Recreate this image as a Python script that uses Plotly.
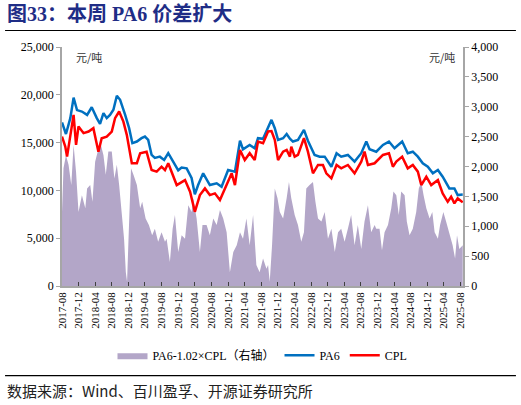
import plotly.graph_objects as go

# PA6-1.02xCPL spread (yuan/t, right axis)
spread_dates = [
    "2017-08-01", "2017-08-12", "2017-08-30", "2017-09-18", "2017-10-08", "2017-10-25", "2017-11-12", "2017-11-30",
    "2017-12-25", "2018-01-19", "2018-02-01", "2018-02-24", "2018-03-12", "2018-04-01", "2018-04-20", "2018-05-07",
    "2018-06-01", "2018-06-18", "2018-07-07", "2018-08-01", "2018-08-20", "2018-09-07", "2018-09-24", "2018-10-13",
    "2018-10-30", "2018-11-12", "2018-11-21", "2018-12-01", "2018-12-20", "2019-01-07", "2019-02-01", "2019-02-25",
    "2019-03-12", "2019-04-06", "2019-04-30", "2019-05-24", "2019-06-13", "2019-07-07", "2019-08-01", "2019-08-26",
    "2019-09-07", "2019-10-01", "2019-10-21", "2019-11-07", "2019-12-01", "2019-12-26", "2020-01-20", "2020-02-13",
    "2020-03-08", "2020-03-20", "2020-04-14", "2020-05-08", "2020-05-27", "2020-06-26", "2020-07-20", "2020-08-14",
    "2020-09-08", "2020-10-02", "2020-10-26", "2020-11-20", "2020-12-14", "2021-01-08", "2021-02-02", "2021-02-26",
    "2021-03-20", "2021-04-14", "2021-05-08", "2021-06-02", "2021-06-26", "2021-07-20", "2021-08-14", "2021-09-08",
    "2021-09-20", "2021-10-02", "2021-10-19", "2021-11-08", "2021-11-28", "2021-12-15", "2022-01-08", "2022-02-03",
    "2022-02-20", "2022-03-09", "2022-04-03", "2022-04-27", "2022-05-21", "2022-06-10", "2022-06-27", "2022-07-21",
    "2022-08-15", "2022-09-02", "2022-09-21", "2022-10-16", "2022-11-09", "2022-12-03", "2022-12-28", "2023-01-22",
    "2023-02-15", "2023-03-10", "2023-04-04", "2023-04-28", "2023-05-22", "2023-06-16", "2023-07-10", "2023-08-04",
    "2023-08-28", "2023-09-22", "2023-10-16", "2023-11-10", "2023-11-22", "2023-12-16", "2024-01-03", "2024-01-22",
    "2024-02-16", "2024-03-11", "2024-03-27", "2024-04-17", "2024-05-05", "2024-05-23", "2024-06-17", "2024-07-03",
    "2024-07-23", "2024-08-16", "2024-09-10", "2024-09-29", "2024-10-17", "2024-11-03", "2024-11-23", "2024-12-17",
    "2025-01-06", "2025-01-23", "2025-02-16", "2025-03-04", "2025-03-28", "2025-04-17", "2025-05-11", "2025-06-04",
    "2025-06-22", "2025-07-06", "2025-07-23", "2025-08-17",
]
spread = [
    1240, 1970, 2190, 2030, 1690, 2360, 1910, 1240,
    1520, 1300, 1630, 1690, 1410, 2080, 2250, 2420,
    2190, 1860, 2250, 2250, 1800, 2030, 1690, 1240,
    790, 230, 70, 740, 1970, 1860, 1690, 1300,
    1410, 1130, 1020, 850, 960, 740, 900, 740,
    790, 400, 960, 1190, 570, 850, 790, 1350,
    1240, 1470, 1130, 570, 1020, 1020, 850, 1130,
    1020, 1270, 1130, 900, 230, 570, 680, 900,
    790, 1130, 680, 1190, 350, 230, 460, 290,
    350, 70, 680, 1630, 1470, 1240, 1130, 1470,
    1740, 1470, 1190, 1020, 740, 900, 1630, 1690,
    1740, 1410, 1130, 1080, 1240, 790, 960, 570,
    900, 960, 740, 960, 1190, 680, 1020, 620,
    1080, 1350, 900, 1020, 960, 960, 600, 900,
    1020, 1300, 1580, 1520, 1190, 1580, 1520, 1080,
    850, 960, 1240, 1630, 1740, 1520, 1300, 1130,
    1240, 900, 790, 1020, 1240, 1080, 900, 680,
    460, 850, 620, 680,
]

# PA6 price (yuan/t, left axis)
pa6_dates = [
    "2017-08-01", "2017-08-30", "2017-10-01", "2017-10-25", "2017-11-19", "2017-12-25", "2018-02-01", "2018-03-07",
    "2018-04-13", "2018-05-07", "2018-06-01", "2018-06-25", "2018-07-19", "2018-08-13", "2018-09-07", "2018-10-01",
    "2018-11-07", "2018-12-06", "2018-12-30", "2019-02-01", "2019-03-07", "2019-04-01", "2019-04-25", "2019-05-20",
    "2019-06-13", "2019-07-19", "2019-08-20", "2019-09-19", "2019-10-25", "2019-12-01", "2019-12-26", "2020-02-01",
    "2020-03-08", "2020-04-01", "2020-04-25", "2020-06-01", "2020-07-20", "2020-09-08", "2020-10-14", "2020-12-01",
    "2021-01-20", "2021-02-26", "2021-03-20", "2021-05-08", "2021-06-14", "2021-07-08", "2021-08-14", "2021-09-20",
    "2021-10-15", "2021-11-08", "2021-12-02", "2022-01-08", "2022-02-03", "2022-02-27", "2022-03-21", "2022-04-27",
    "2022-06-10", "2022-07-09", "2022-08-27", "2022-10-03", "2022-11-09", "2022-12-28", "2023-02-04", "2023-03-10",
    "2023-04-28", "2023-06-16", "2023-08-04", "2023-09-10", "2023-10-04", "2023-11-22", "2024-01-10", "2024-02-23",
    "2024-04-04", "2024-05-30", "2024-07-10", "2024-08-16", "2024-09-22", "2024-10-28", "2024-12-04", "2025-01-10",
    "2025-02-16", "2025-03-23", "2025-05-11", "2025-06-17", "2025-07-11", "2025-08-17",
]
pa6 = [
    17100, 15900, 17560, 19700, 18400, 18250, 17900, 18700,
    17560, 16950, 18080, 17560, 17900, 18430, 19900, 19480,
    17900, 16510, 14940, 15110, 15460, 15630, 15280, 13710,
    13400, 13530, 13180, 13890, 13010, 12100, 12400, 12310,
    11300, 9600, 10560, 11790, 10560, 10740, 10380, 12130,
    11960, 15200, 14300, 14760, 14410, 15460, 15400, 16600,
    17380, 16500, 15280, 15460, 15900, 15400, 15110, 15280,
    16330, 15200, 13710, 13530, 13530, 12480, 13890, 13530,
    13710, 13010, 13890, 15110, 14300, 14050, 14760, 15110,
    14410, 15110, 13890, 14050, 13530, 12840, 12480, 11790,
    12130, 11430, 10210, 10210, 9510, 9560,
]

# CPL price (yuan/t, left axis)
cpl_dates = [
    "2017-08-01", "2017-08-25", "2017-09-07", "2017-10-01", "2017-10-25", "2017-11-12", "2017-11-30", "2018-01-06",
    "2018-02-12", "2018-03-19", "2018-04-25", "2018-05-19", "2018-06-25", "2018-08-01", "2018-08-25", "2018-09-24",
    "2018-10-25", "2018-11-19", "2018-12-26", "2019-02-01", "2019-02-25", "2019-04-13", "2019-05-20", "2019-06-26",
    "2019-08-01", "2019-08-26", "2019-09-19", "2019-11-20", "2020-01-20", "2020-02-26", "2020-04-01", "2020-05-08",
    "2020-06-14", "2020-07-20", "2020-08-26", "2020-10-02", "2020-11-08", "2020-12-27", "2021-01-20", "2021-02-26",
    "2021-04-02", "2021-05-08", "2021-06-14", "2021-07-08", "2021-08-14", "2021-09-20", "2021-10-15", "2021-11-08",
    "2021-12-02", "2022-01-08", "2022-02-03", "2022-02-27", "2022-03-09", "2022-04-03", "2022-04-27", "2022-06-10",
    "2022-07-09", "2022-08-15", "2022-09-21", "2022-10-27", "2022-11-21", "2022-12-28", "2023-02-04", "2023-03-10",
    "2023-04-28", "2023-06-16", "2023-08-04", "2023-08-28", "2023-09-22", "2023-11-10", "2024-01-10", "2024-02-23",
    "2024-03-23", "2024-04-17", "2024-05-30", "2024-07-10", "2024-08-16", "2024-09-22", "2024-10-17", "2024-11-23",
    "2024-12-29", "2025-02-16", "2025-03-23", "2025-04-29", "2025-05-24", "2025-06-17", "2025-07-11", "2025-08-17",
]
cpl = [
    15630, 14580, 13530, 15990, 17900, 14760, 16680, 15990,
    16160, 16510, 14050, 15460, 15630, 16160, 17560, 18250,
    17200, 15810, 12840, 12840, 13890, 14050, 12130, 11960,
    12480, 12130, 12840, 10560, 11080, 9860, 7760, 9510,
    10210, 9510, 9690, 8990, 10210, 11790, 10560, 14230,
    13180, 13890, 13180, 15110, 14940, 16160, 16200, 15280,
    13180, 14050, 14230, 13530, 14580, 13530, 13710, 15460,
    14050, 11790, 12660, 12660, 11790, 11260, 12660, 12310,
    12660, 11790, 13010, 14050, 12660, 12840, 13710, 13890,
    12480, 13010, 13530, 12310, 12660, 11960, 10560, 11430,
    10560, 11080, 9690, 8810, 9340, 8640, 9160, 8750,
]

serif = "Liberation Serif, Times New Roman, Noto Sans CJK SC, serif"
cjk = "Noto Sans CJK SC, sans-serif"

fig = go.Figure()

fig.add_trace(go.Scatter(
    x=spread_dates, y=spread, name="PA6-1.02×CPL（右轴）",
    mode="lines", fill="tozeroy", fillcolor="#B3A6C8",
    line=dict(width=0, color="#B3A6C8"), yaxis="y",
))
fig.add_trace(go.Scatter(
    x=pa6_dates, y=pa6, name="PA6", mode="lines",
    line=dict(color="#0070C0", width=2.5), yaxis="y2",
))
fig.add_trace(go.Scatter(
    x=cpl_dates, y=cpl, name="CPL", mode="lines",
    line=dict(color="#FF0000", width=2.5), yaxis="y2",
))

axis_col = "#A6A6A6"
fig.update_layout(
    width=521, height=405,
    margin=dict(l=62, r=58, t=47, b=119),
    paper_bgcolor="white", plot_bgcolor="white",
    font=dict(family=serif, size=12, color="#000000"),
    showlegend=True,
    legend=dict(orientation="h", x=0.5, xanchor="center", y=-0.29, yanchor="middle",
                font=dict(family=serif, size=12), itemwidth=30, tracegroupgap=0),
    xaxis=dict(
        type="date", range=["2017-08-01", "2025-08-19"],
        tick0="2017-08-01", dtick="M4", tickformat="%Y-%m", tickangle=-90,
        ticks="inside", ticklen=4, tickcolor="#404040",
        showline=True, linecolor=axis_col, linewidth=1.5,
        showgrid=False, zeroline=False, tickfont=dict(size=11),
    ),
    yaxis=dict(
        side="right", range=[0, 4000], dtick=500, tickformat=",d",
        showline=True, linecolor=axis_col, linewidth=1.5,
        ticks="outside", ticklen=4, tickcolor=axis_col,
        showgrid=False, zeroline=False, tickfont=dict(size=12),
    ),
    yaxis2=dict(
        side="left", overlaying="y", range=[0, 25000], dtick=5000, tickformat=",d",
        showline=True, linecolor=axis_col, linewidth=1.5,
        ticks="outside", ticklen=4, tickcolor=axis_col,
        showgrid=False, zeroline=False, tickfont=dict(size=12),
    ),
    shapes=[
        dict(type="line", xref="paper", yref="paper", x0=-0.142, x1=1.132, y0=1.069, y1=1.069,
             line=dict(color="#000000", width=1.2)),
        dict(type="line", xref="paper", yref="paper", x0=-0.142, x1=1.132, y0=-0.375, y1=-0.375,
             line=dict(color="#000000", width=1.2)),
    ],
    annotations=[
        dict(text="<b>图33：本周 PA6 价差扩大</b>", xref="paper", yref="paper", x=-0.142, y=1.14,
             xanchor="left", yanchor="middle", showarrow=False,
             font=dict(family="Liberation Serif, Noto Sans CJK SC", size=20, color="#1F2D86")),
        dict(text="数据来源：Wind、百川盈孚、开源证券研究所", xref="paper", yref="paper", x=-0.142, y=-0.438,
             xanchor="left", yanchor="middle", showarrow=False,
             font=dict(family=cjk, size=15, color="#222222")),
        dict(text="元/吨", xref="paper", yref="paper", x=0.03, y=0.96,
             xanchor="left", yanchor="middle", showarrow=False,
             font=dict(family=cjk, size=11, color="#333333")),
        dict(text="元/吨", xref="paper", yref="paper", x=0.985, y=0.96,
             xanchor="right", yanchor="middle", showarrow=False,
             font=dict(family=cjk, size=11, color="#333333")),
    ],
)

# the page's default 8px body margin would push the figure off the window
fig.write_html("out.html", config={"displayModeBar": False},
               post_script="document.body.style.margin='0';")
